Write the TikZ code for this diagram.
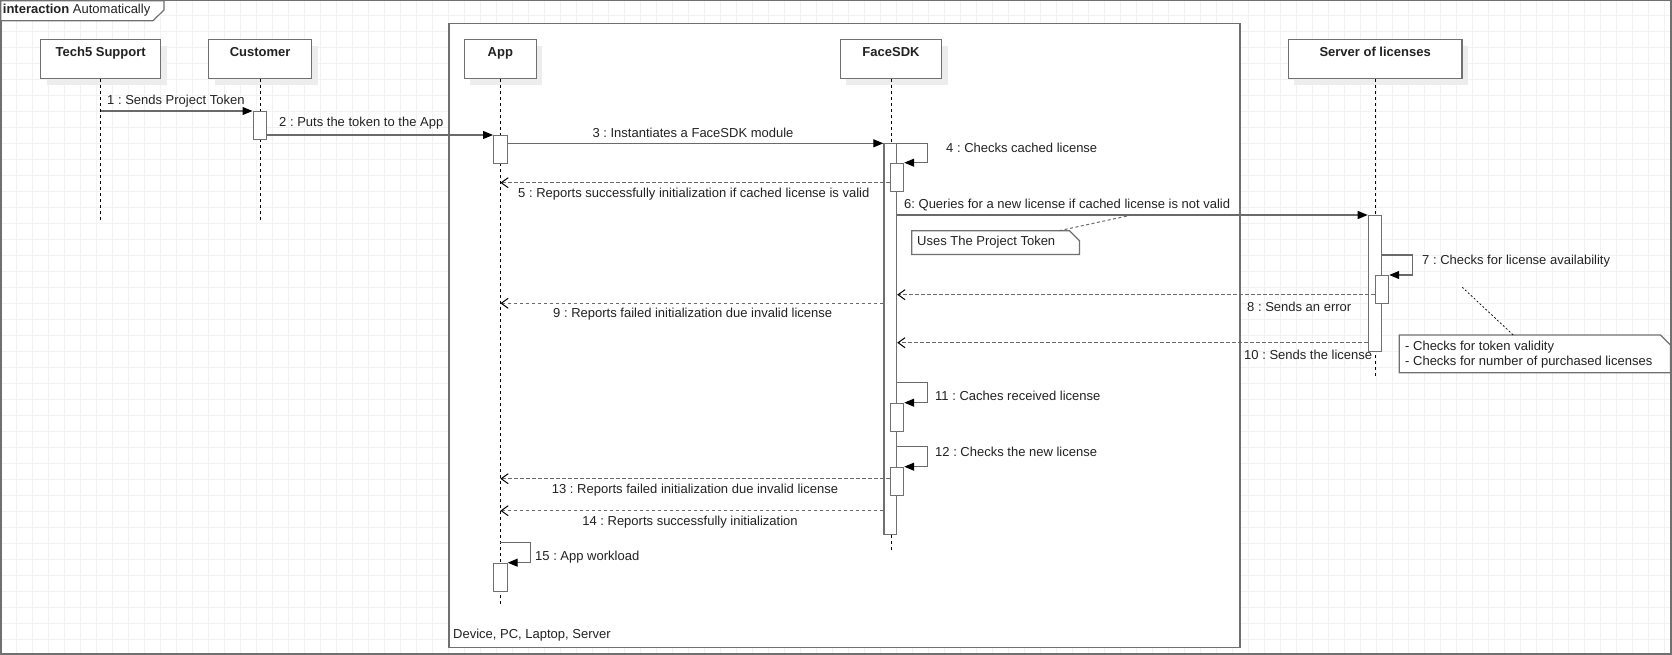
\documentclass[tikz,border=0pt]{standalone}
\usepackage{fontspec}
\setmainfont{Liberation Sans}
\usetikzlibrary{arrows.meta,calc,shadows}
\frenchspacing
\definecolor{gridc}{HTML}{F2F2F2}
\definecolor{linec}{HTML}{707070}
\definecolor{msgc}{HTML}{6A6A6A}
\definecolor{txtc}{HTML}{222222}
\definecolor{shadc}{HTML}{EDEDED}
\tikzset{
  every node/.append style={font=\fontsize{13}{15}\selectfont, text=txtc, inner sep=0pt},
  head/.style={draw=linec, line width=1.3pt, fill=white, minimum height=39pt, anchor=north west,
    drop shadow={shadow xshift=6pt, shadow yshift=-6pt, fill=shadc, opacity=1}},
  title/.style={anchor=base, font=\fontsize{13}{15}\selectfont\bfseries},
  actbar/.style={draw=linec, line width=1.2pt, fill=white, minimum width=13.5pt, anchor=north west},
  life/.style={black, line width=0.9pt, dash pattern=on 3pt off 3pt},
  call/.style={draw=msgc, line width=1.1pt, -{Triangle[length=10pt,width=8pt,color=black]}},
  ret/.style={draw=msgc, line width=1.1pt, dash pattern=on 3.5pt off 2.5pt, -{Straight Barb[length=7pt,width=10pt,color=black,line width=1pt]}},
  lbl/.style={anchor=base west},
  clbl/.style={anchor=base},
  notebox/.style={minimum width=#1, anchor=north west},
  noteline/.style={draw=linec, line width=1.2pt, fill=white},
  frame/.style={draw=linec, line width=1.5pt},
}
\begin{document}
\frenchspacing
\begin{tikzpicture}[x=1pt,y=-1pt]
\useasboundingbox (0,0) rectangle (1672,655);
% grid
\foreach \i in {0,...,104} \draw[gridc, line width=0.8pt] (0.7+16*\i,0) -- (0.7+16*\i,655);
\foreach \j in {0,...,40} \draw[gridc, line width=0.8pt] (0,15+16*\j) -- (1672,15+16*\j);
% outer frame and tab
\draw[frame] (0.75,0.75) rectangle (1671,654);
\draw[frame, line width=1.2pt, fill=white] (0.75,0.75) -- (164,0.75) -- (164,10) -- (153,20.7) -- (0.75,20.7) -- cycle;
\node[lbl] (tab) at (2.7,14) {\textbf{interaction} Automatically};
% device box
\node[frame, fill=white, minimum width=791.3pt, minimum height=624pt, anchor=north west] (device) at (448,22.7) {};
\node[lbl] (devlbl) at (453,638) {Device, PC, Laptop, Server};
% heads
\node[head, minimum width=120pt] (techHead) at (40,39) {};
\node[head, minimum width=103pt] (custHead) at (208,39) {};
\node[head, minimum width=72pt] (appHead) at (463.7,39) {};
\node[head, minimum width=101.3pt] (fsHead) at (839.7,39) {};
\node[head, minimum width=173.6pt] (srvHead) at (1287.7,39) {};
\node[title] (techT) at ($(techHead.north)+(0,17.3)$) {Tech5 Support};
\node[title] (custT) at ($(custHead.north)+(0,17.3)$) {Customer};
\node[title] (appT) at ($(appHead.north)+(0,17.3)$) {App};
\node[title] (fsT) at ($(fsHead.north)+(0,17.3)$) {FaceSDK};
\node[title] (srvT) at ($(srvHead.north)+(0,17.3)$) {Server of licenses};
% lifelines
\coordinate (techEnd) at (techHead.south |- 0,220);
\coordinate (custEnd) at (custHead.south |- 0,220);
\coordinate (appEnd) at (appHead.south |- 0,604);
\coordinate (fsEnd) at (fsHead.south |- 0,550);
\coordinate (srvEnd) at (srvHead.south |- 0,377);
\draw[life] (techHead.south) -- (techEnd);
\draw[life] (custHead.south) -- (custEnd);
\draw[life] (appHead.south) -- (appEnd);
\draw[life] (fsHead.south) -- (fsEnd);
\draw[life] (srvHead.south) -- (srvEnd);
% activations
\node[actbar, minimum height=28pt] (custAct) at (252.5,111) {};
\node[actbar, minimum height=28pt] (appAct1) at (493,135) {};
\node[actbar, minimum height=390.7pt, minimum width=12.7pt] (fsAct) at (883.3,143.3) {};
\node[actbar, minimum height=28pt] (fsAct4) at (889.5,162.7) {};
\node[actbar, minimum height=135.7pt] (srvAct) at (1367.7,215) {};
\node[actbar, minimum height=27.7pt] (srvAct7) at (1374.5,275) {};
\node[actbar, minimum height=28pt] (fsAct11) at (889.5,402.7) {};
\node[actbar, minimum height=28.3pt] (fsAct12) at (889.5,466.7) {};
\node[actbar, minimum height=28pt] (appAct15) at (493,562.7) {};
% messages
\draw[call] (techHead.south |- custAct.north) -- (custAct.north west);
\draw[call] (custAct.east |- appAct1.north) -- (appAct1.north west);
\draw[call] (appAct1.east |- fsAct.north) -- (fsAct.north west);
\draw[call] (fsAct.north east) -- ++(30,0) |- (fsAct4.north east);
\draw[ret] (fsAct4.west |- 0,182.7) -- (appHead.south |- 0,182.7);
\draw[call] (fsAct.east |- srvAct.north) -- (srvAct.north west);
\draw[call] (srvAct.east |- 0,255) -- ++(30,0) |- (srvAct7.north east);
\draw[ret] (srvAct7.west |- 0,294.7) -- (fsAct.east |- 0,294.7);
\draw[ret] (fsAct.west |- 0,303.3) -- (appHead.south |- 0,303.3);
\draw[ret] (srvAct.west |- 0,342.7) -- (fsAct.east |- 0,342.7);
\draw[call] (fsAct.east |- 0,382.7) -- ++(30,0) |- (fsAct11.north east);
\draw[call] (fsAct.east |- 0,446.7) -- ++(30,0) |- (fsAct12.north east);
\draw[ret] (fsAct12.west |- 0,478.7) -- (appHead.south |- 0,478.7);
\draw[ret] (fsAct.west |- 0,510.7) -- (appHead.south |- 0,510.7);
\draw[call] (appHead.south |- 0,542.7) -- ++(30,0) |- (appAct15.north east);
% message labels
\node[lbl] (m1) at (107,104.6) {1 : Sends Project Token};
\node[lbl] (m2) at (279,126.3) {2 : Puts the token to the App};
\node[clbl] (m3) at (693,137.3) {3 : Instantiates a FaceSDK module};
\node[lbl] (m4) at (946,152.6) {4 : Checks cached license};
\node[lbl] (m5) at (518,197.3) {5 : Reports successfully initialization if cached license is valid};
\node[lbl] (m6) at (904,208.3) {6: Queries for a new license if cached license is not valid};
\node[lbl] (m7) at (1422,264.6) {7 : Checks for license availability};
\node[lbl] (m8) at (1247,311.9) {8 : Sends an error};
\node[clbl] (m9) at (692.7,317.9) {9 : Reports failed initialization due invalid license};
\node[lbl] (m10) at (1244,359.9) {10 : Sends the license};
\node[lbl] (m11) at (935,400.6) {11 : Caches received license};
\node[lbl] (m12) at (935,456.6) {12 : Checks the new license};
\node[clbl] (m13) at (695,493.3) {13 : Reports failed initialization due invalid license};
\node[clbl] (m14) at (690,525.3) {14 : Reports successfully initialization};
\node[lbl] (m15) at (535,560.9) {15 : App workload};
% note 1
\node[notebox=167.3pt, minimum height=23.3pt] (note1) at (911.7,230.7) {};
\draw[noteline] (note1.north west) -- ($(note1.north east)+(-10,0)$) -- ($(note1.north east)+(0,10)$) -- (note1.south east) -- (note1.south west) -- cycle;
\node[lbl] (note1t) at (917,245.9) {Uses The Project Token};
\coordinate (n1end) at (1131.7,215);
\draw[msgc, line width=1pt, dash pattern=on 3pt off 2.5pt] ($(note1.north west)!0.88!(note1.north east)$) -- (n1end);
% note 2
\node[notebox=270.7pt, minimum height=37.3pt] (note2) at (1399.3,335) {};
\draw[noteline] (note2.north west) -- ($(note2.north east)+(-10,0)$) -- ($(note2.north east)+(0,10)$) -- (note2.south east) -- (note2.south west) -- cycle;
\node[lbl] (note2a) at (1405,350.3) {- Checks for token validity};
\node[lbl] (note2b) at (1405,365.3) {- Checks for number of purchased licenses};
\coordinate (n2end) at (1462.3,287.3);
\draw[black, line width=0.7pt, dash pattern=on 2pt off 2pt] ($(note2.north west)!0.42!(note2.north east)$) -- (n2end);
\end{tikzpicture}
\end{document}
